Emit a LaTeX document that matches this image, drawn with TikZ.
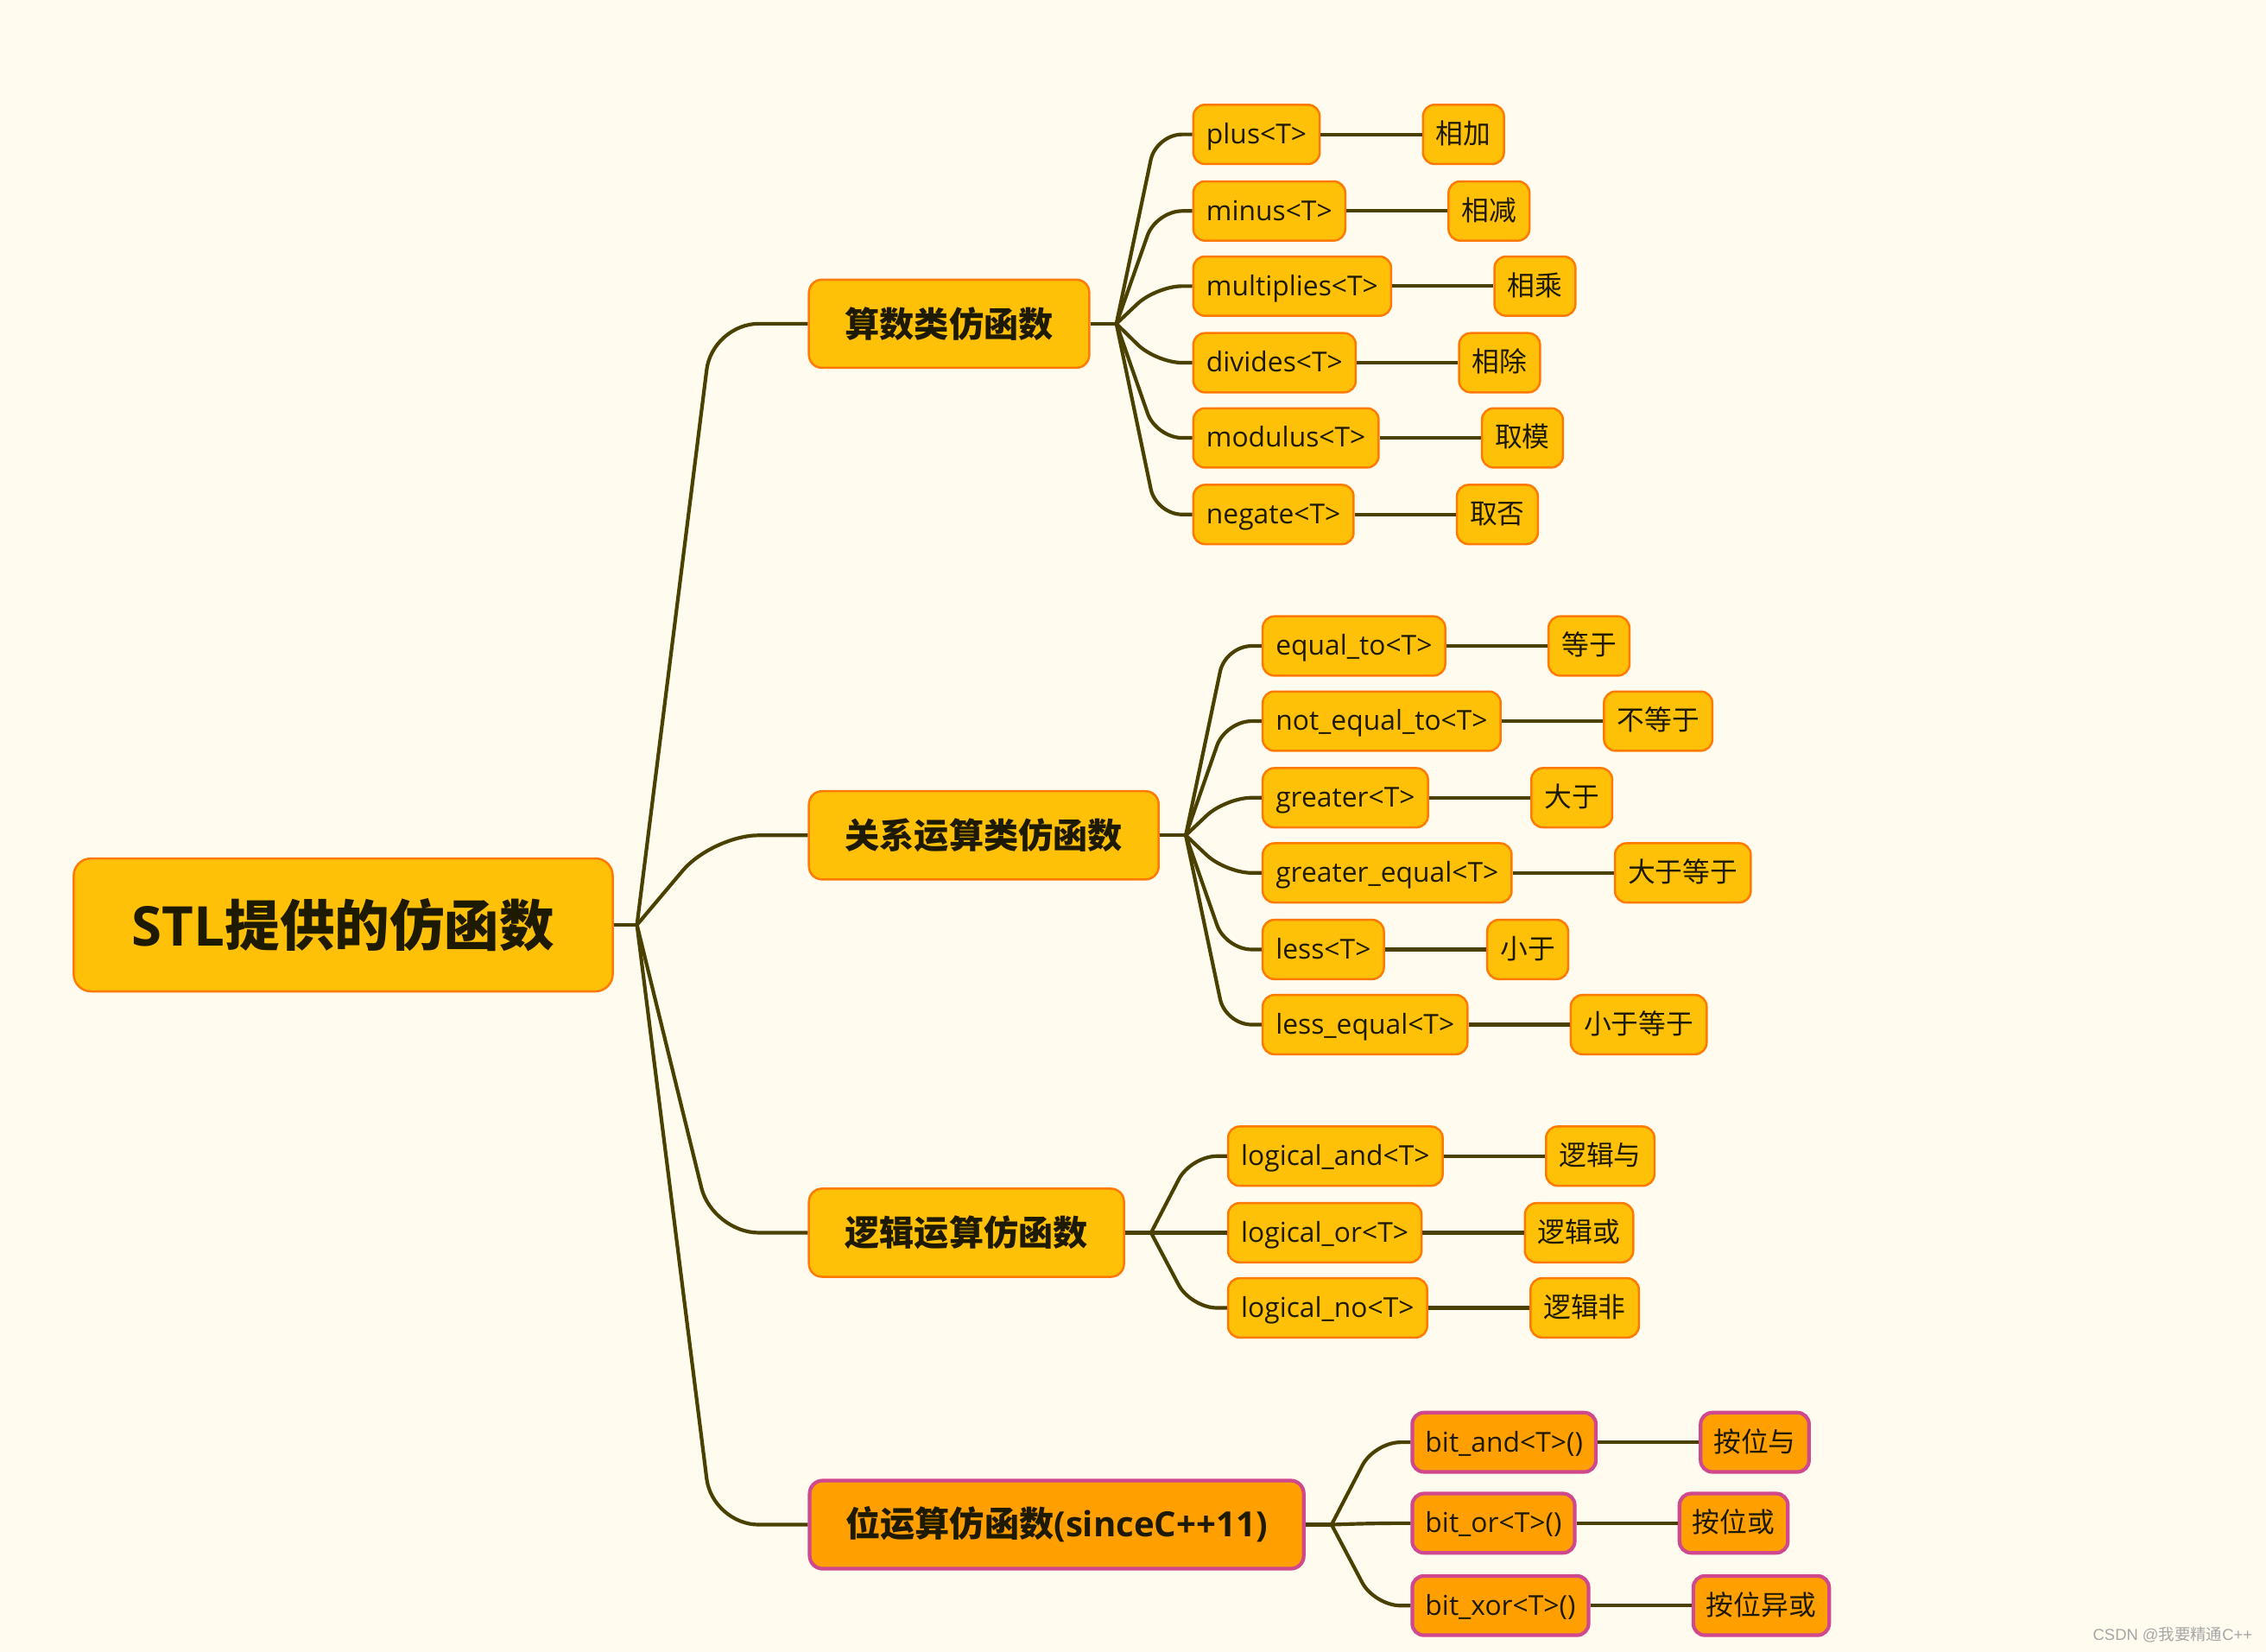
\documentclass[tikz,border=0pt]{standalone}
\usepackage{fontspec}
\setmainfont{Open Sans}
\newfontfamily\cjk{Noto Sans CJK SC}
\newfontfamily\wmfont{Liberation Sans}
\usetikzlibrary{positioning,calc}
\definecolor{paper}{HTML}{FFFBEF}
\definecolor{amber}{HTML}{FFC107}
\definecolor{amberdark}{HTML}{FFA000}
\definecolor{rim}{HTML}{FF7A00}
\definecolor{pinkrim}{HTML}{D0488E}
\definecolor{twig}{HTML}{4A4000}
\definecolor{ink}{HTML}{1E1A00}
\tikzset{
rootbox/.style={draw=rim,fill=amber,line width=1.5pt,rounded corners=12pt,minimum width=373pt,minimum height=92pt,text=ink,font=\fontsize{38}{44}\selectfont\bfseries},
topic/.style={draw=rim,fill=amber,line width=1.5pt,rounded corners=9pt,minimum height=61pt,inner xsep=25pt,text=ink,font=\fontsize{24}{28}\selectfont\bfseries,anchor=west},
bittopic/.style={topic,draw=pinkrim,fill=amberdark,line width=2.5pt},
leaf/.style={draw=rim,fill=amber,line width=1.5pt,rounded corners=8pt,minimum height=41pt,inner xsep=9pt,text height=16pt,text depth=3pt,text=ink,font=\fontsize{19}{22}\selectfont,anchor=west},
bitleaf/.style={leaf,draw=pinkrim,fill=amberdark,line width=2.5pt},
link/.style={draw=twig,line width=2.5pt},
fan/.style={link,rounded corners=32pt},
subfan/.style={link,rounded corners=18pt}
}
\begin{document}
\begin{tikzpicture}[x=1pt,y=-1pt]
\fill[paper](0,0)rectangle(1568,1143);
\useasboundingbox(0,0)rectangle(1568,1143);
% root and topics
\node[rootbox](root)at(237.5,640){STL{\cjk 提供的仿函数}};
\node[topic](calc)at(559,224){\cjk 算数类仿函数};
\node[topic](rel)at(559,578){\cjk 关系运算类仿函数};
\node[topic](logic)at(559,853){\cjk 逻辑运算仿函数};
\node[bittopic](bit)at(559,1055){{\cjk 位运算仿函数}(sinceC++11)};
\coordinate(j0)at([xshift=16pt]root.east);
\coordinate(j1)at([xshift=18pt]calc.east);
\coordinate(j2)at([xshift=18pt]rel.east);
\coordinate(j3)at([xshift=18pt]logic.east);
\coordinate(j4)at([xshift=18pt]bit.east);
% arithmetic
\node[leaf](plus)at(825,93){plus<T>};
\node[leaf](minus)at(825,146){minus<T>};
\node[leaf](multi)at(825,198){multiplies<T>};
\node[leaf](divi)at(825,251){divides<T>};
\node[leaf](modu)at(825,303){modulus<T>};
\node[leaf](nega)at(825,356){negate<T>};
\node[leaf,right=70pt of plus](plusd){\cjk 相加};
\node[leaf,right=70pt of minus](minusd){\cjk 相减};
\node[leaf,right=70pt of multi](multid){\cjk 相乘};
\node[leaf,right=70pt of divi](divid){\cjk 相除};
\node[leaf,right=70pt of modu](modud){\cjk 取模};
\node[leaf,right=70pt of nega](negad){\cjk 取否};
% relational
\node[leaf](eq)at(873,447){equal\_to<T>};
\node[leaf](neq)at(873,499){not\_equal\_to<T>};
\node[leaf](gt)at(873,552){greater<T>};
\node[leaf](ge)at(873,604){greater\_equal<T>};
\node[leaf](lt)at(873,657){less<T>};
\node[leaf](le)at(873,709){less\_equal<T>};
\node[leaf,right=70pt of eq](eqd){\cjk 等于};
\node[leaf,right=70pt of neq](neqd){\cjk 不等于};
\node[leaf,right=70pt of gt](gtd){\cjk 大于};
\node[leaf,right=70pt of ge](ged){\cjk 大于等于};
\node[leaf,right=70pt of lt](ltd){\cjk 小于};
\node[leaf,right=70pt of le](led){\cjk 小于等于};
% logical
\node[leaf](land)at(849,800){logical\_and<T>};
\node[leaf](lor)at(849,853){logical\_or<T>};
\node[leaf](lno)at(849,905){logical\_no<T>};
\node[leaf,right=70pt of land](landd){\cjk 逻辑与};
\node[leaf,right=70pt of lor](lord){\cjk 逻辑或};
\node[leaf,right=70pt of lno](lnod){\cjk 逻辑非};
% bitwise
\node[bitleaf](band)at(976,998){bit\_and<T>()};
\node[bitleaf](bor)at(976,1054){bit\_or<T>()};
\node[bitleaf](bxor)at(976,1111){bit\_xor<T>()};
\node[bitleaf,right=70pt of band](bandd){\cjk 按位与};
\node[bitleaf,right=70pt of bor](bord){\cjk 按位或};
\node[bitleaf,right=70pt of bxor](bxord){\cjk 按位异或};
\node[font=\wmfont\fontsize{11}{13}\selectfont,text=black!35,anchor=east](wm)at(1562,1131){CSDN @{\cjk 我要精通}C++};
% connectors
\draw[link](root.east)--(j0);
\foreach \t in {calc,rel,logic,bit}\draw[fan](j0)--([xshift=-66pt]\t.west)--(\t.west);
\draw[link](calc.east)--(j1);\draw[link](rel.east)--(j2);\draw[link](logic.east)--(j3);\draw[link](bit.east)--(j4);
\foreach \t in {plus,minus,multi,divi,modu,nega}\draw[subfan](j1)--([xshift=-25pt]\t.west)--(\t.west);
\foreach \t in {eq,neq,gt,ge,lt,le}\draw[subfan](j2)--([xshift=-25pt]\t.west)--(\t.west);
\foreach \t in {land,lor,lno}\draw[subfan](j3)--([xshift=-25pt]\t.west)--(\t.west);
\foreach \t in {band,bor,bxor}\draw[subfan](j4)--([xshift=-25pt]\t.west)--(\t.west);
\foreach \t in {plus,minus,multi,divi,modu,nega,eq,neq,gt,ge,lt,le,land,lor,lno,band,bor,bxor}\draw[link](\t)--(\t d);
\end{tikzpicture}
\end{document}
